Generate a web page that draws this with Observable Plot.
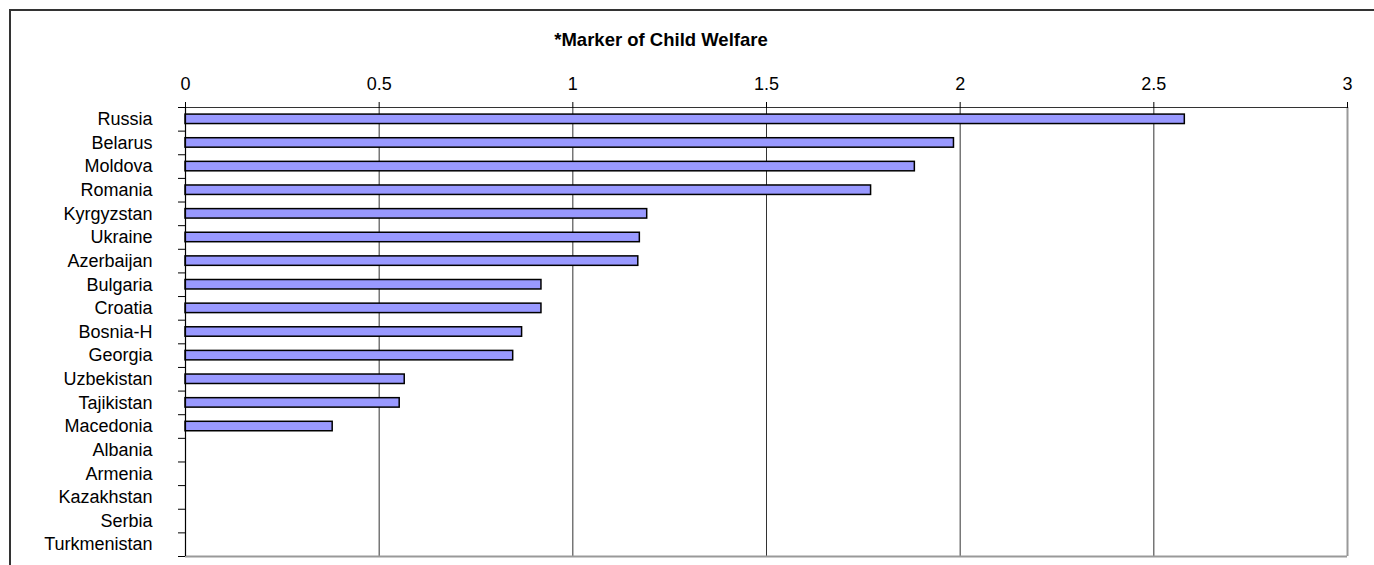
<!DOCTYPE html>
<html>
<head>
<meta charset="utf-8">
<script src="https://cdn.jsdelivr.net/npm/d3@7"></script>
<script src="https://cdn.jsdelivr.net/npm/@observablehq/plot@0.6"></script>
<style>
  html, body { margin: 0; padding: 0; background: #fff; overflow: hidden; width: 1374px; height: 565px; }
  #page { position: relative; width: 1374px; height: 565px; font-family: "Liberation Sans", Arial, sans-serif; }
  #frame { position: absolute; left: 9px; top: 9px; width: 2000px; height: 2000px; border-left: 2px solid #333; border-top: 2px solid #333; box-sizing: border-box; }
  #title { position: absolute; top: 30px; left: 0; width: 1322px; text-align: center; font-weight: bold; font-size: 18.5px; line-height: 20px; color: #000; }
  #chart { position: absolute; top: 60px; left: 0; }
</style>
</head>
<body>
<div id="page">
  <div id="frame"></div>
  <div id="title">*Marker of Child Welfare</div>
  <div id="chart"></div>
</div>
<script>
const countries = ["Russia", "Belarus", "Moldova", "Romania", "Kyrgyzstan", "Ukraine", "Azerbaijan", "Bulgaria", "Croatia", "Bosnia-H", "Georgia", "Uzbekistan", "Tajikistan", "Macedonia", "Albania", "Armenia", "Kazakhstan", "Serbia", "Turkmenistan"];
const values = [2.58, 1.984, 1.883, 1.77, 1.192, 1.173, 1.169, 0.919, 0.919, 0.869, 0.846, 0.566, 0.553, 0.38, null, null, null, null, null];
const xTicks = [0, 0.5, 1, 1.5, 2, 2.5, 3];
const xTickLabels = ["0", "0.5", "1", "1.5", "2", "2.5", "3"];

const rows = countries.map((c, i) => ({country: c, index: i, value: values[i]}));
const bars = rows.filter(d => d.value != null);
const idx = countries.map((c, i) => i);
const boundaries = d3.range(-0.5, countries.length, 1);

const chart = Plot.plot({
  width: 1374,
  height: 505,
  marginTop: 47,
  marginBottom: 9,
  marginLeft: 185,
  marginRight: 27,
  style: {fontFamily: '"Liberation Sans", Arial, sans-serif', fontSize: "18px", color: "#000", background: "transparent"},
  x: {domain: [0, 3], label: null},
  y: {domain: [-0.5, countries.length - 0.5], reverse: true, label: null},
  marks: [
    // gridlines
    Plot.ruleX(xTicks.filter(t => t > 0 && t < 3), {stroke: "#333", strokeWidth: 1}),
    // plot area borders
    Plot.ruleX([3], {stroke: "#999", strokeWidth: 2}),
    Plot.ruleY([countries.length - 0.5], {stroke: "#999", strokeWidth: 2}),
    Plot.ruleY([-0.5], {stroke: "#333", strokeWidth: 1.2}),
    // bars
    Plot.rectX(bars, {x1: 0, x2: "value", y1: d => d.index - 0.2, y2: d => d.index + 0.2, fill: "#9999FF", stroke: "#000", strokeWidth: 1.5}),
    // left axis line
    Plot.ruleX([0], {stroke: "#000", strokeWidth: 1.2}),
    // x axis on top
    Plot.axisX(xTicks, {anchor: "top", label: null, tickSize: 6, tickPadding: 12, tickFormat: (d, i) => xTickLabels[i], stroke: "#000", fill: "#000"}),
    // y category labels
    Plot.axisY(idx, {anchor: "left", label: null, tickSize: 0, tickPadding: 33, tickFormat: i => countries[i], fill: "#000"}),
    // y boundary tick marks
    Plot.axisY(boundaries, {anchor: "left", label: null, tickSize: 7, tickFormat: () => "", stroke: "#000"}),
  ]
});
document.getElementById("chart").appendChild(chart);
</script>
</body>
</html>
